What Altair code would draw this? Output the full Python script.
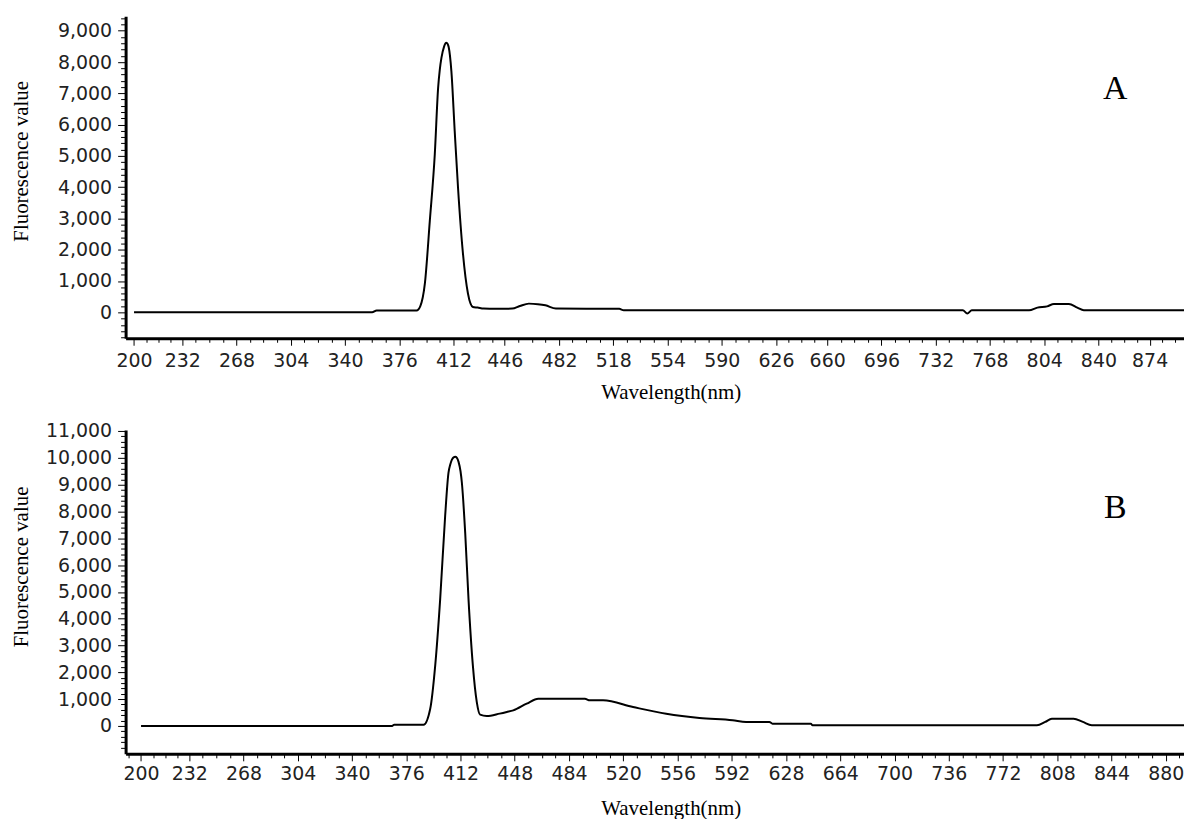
import altair as alt
import pandas as pd

# ---------------- data ----------------
wl_a = [200, 358, 361, 387.5, 390, 393, 396.3, 399.6, 401.8, 402.9, 404, 405.8, 406.6, 407.3, 408.1,
        408.8, 410.6, 412.8, 415, 418.3, 421.6, 424.9, 428, 432, 440, 451, 456, 462, 468, 473,
        480, 500, 522, 525, 750, 753, 756, 794, 799.5, 806, 810.5, 820.4, 826, 830.3, 897]
val_a = [0, 0, 60, 60, 200, 913, 2930, 5060, 7175, 7750, 8130, 8500, 8590, 8620, 8580,
         8480, 7710, 5800, 3990, 1870, 600, 170, 150, 118, 110, 118, 200, 277, 260, 223,
         118, 110, 110, 64, 64, -40, 64, 64, 150, 190, 265, 265, 150, 64, 64]

wl_b = [200, 366.6, 368, 387.5, 391.9, 395.2, 398.5, 401.8, 404, 405.2, 406.3, 407.4, 408.5, 409.6,
        410.7, 412, 412.9, 415.1, 417.3, 420.2, 422.8, 425, 429.4, 438, 442.7, 447, 455.9, 463.6,
        494.5, 497.8, 506.6, 526.5, 548.5, 570.6, 592.6, 601.5, 617, 619, 644.5, 645.6,
        794.5, 800, 804.4, 818.8, 825, 830.9, 895]
val_b = [0, 0, 45, 45, 640, 2250, 4730, 7830, 9440, 9750, 9930, 10020, 10040, 10000,
         9850, 9500, 9070, 7210, 4730, 2250, 890, 420, 370, 460, 520, 580, 830, 1015,
         1015, 955, 955, 706, 457, 297, 210, 149, 149, 86, 86, 26,
         26, 150, 270, 270, 150, 26, 26]

xticks_a = [200, 232, 268, 304, 340, 376, 412, 446, 482, 518, 554, 590, 626, 660,
            696, 732, 768, 804, 840, 874]
xticks_b = [200, 232, 268, 304, 340, 376, 412, 448, 484, 520, 556, 592, 628, 664,
            700, 736, 772, 808, 844, 880]
yticks_a = [0, 1000, 2000, 3000, 4000, 5000, 6000, 7000, 8000, 9000]
yticks_b = [0, 1000, 2000, 3000, 4000, 5000, 6000, 7000, 8000, 9000, 10000, 11000]

panel_labels = ["A", "B"]


def minor_x(major, lo, hi):
    vals = []
    for a, b in zip(major[:-1], major[1:]):
        s = (b - a) / 4
        vals += [a + s * k for k in (1, 2, 3)]
    s = (major[-1] - major[-2]) / 4
    v = major[-1] + s
    while v < hi:
        vals.append(v)
        v += s
    s = (major[1] - major[0]) / 4
    v = major[0] - s
    while v > lo:
        vals.append(v)
        v -= s
    return vals


def minor_y(lo, hi):
    return [v for v in range(-1000, 11401, 200) if v % 1000 != 0 and lo <= v <= hi]


def panel(wl, val, xticks, yticks, xdom, ydom, w, h, label, lab_pos, ytitle_xy, xtitle_xy,
          xlabpad):
    df = pd.DataFrame({"wl": wl, "val": val})
    xs = alt.Scale(domain=xdom, nice=False, zero=False)
    ys = alt.Scale(domain=ydom, nice=False, zero=False)

    line = alt.Chart(df).mark_line(color="black", strokeWidth=2, clip=True,
                                   interpolate="monotone").encode(
        x=alt.X("wl:Q", scale=xs,
                axis=alt.Axis(values=xticks, format="d", title="Wavelength(nm)",
                              tickSize=7, labelPadding=xlabpad, grid=False,
                              titleX=xtitle_xy[0], titleY=xtitle_xy[1],
                              titleBaseline="middle", titleAlign="center",
                              labelFlush=False, labelOverlap=False)),
        y=alt.Y("val:Q", scale=ys,
                axis=alt.Axis(values=yticks, format=",d", title="Fluorescence value",
                              tickSize=8, labelPadding=6, grid=False,
                              titleX=ytitle_xy[0], titleY=ytitle_xy[1],
                              titleBaseline="middle", titleAlign="center",
                              labelFlush=False, labelOverlap=False)),
    )

    minor = alt.Chart(df).mark_line(strokeOpacity=0, clip=True).encode(
        x=alt.X("wl:Q", scale=xs,
                axis=alt.Axis(values=minor_x(xticks, xdom[0], xdom[1]), orient="bottom",
                              labels=False, domain=False, title=None, tickSize=4,
                              grid=False)),
        y=alt.Y("val:Q", scale=ys,
                axis=alt.Axis(values=minor_y(ydom[0], ydom[1]), orient="left",
                              labels=False, domain=False, title=None, tickSize=5,
                              grid=False)),
    )

    txt = alt.Chart(pd.DataFrame({"t": [label]})).mark_text(
        font="Liberation Serif", fontSize=34, color="black",
        align="center", baseline="middle"
    ).encode(text="t:N", x=alt.value(lab_pos[0]), y=alt.value(lab_pos[1]))

    return alt.layer(line, minor, txt).resolve_axis(
        x="independent", y="independent"
    ).properties(width=w, height=h)


pa = panel(wl_a, val_a, xticks_a, yticks_a, [194.4, 896.8], [-830, 9460], 1062, 323,
           panel_labels[0], (993, 73), (-104, 145), (547, 54), 6)
pb = panel(wl_b, val_b, xticks_b, yticks_b, [189.75, 892.1], [-1040, 11040], 1062, 325,
           panel_labels[1], (993, 78), (-104, 137), (547, 55), 4)

chart = alt.vconcat(pa, pb, spacing=20).properties(
    padding={"left": 2, "top": 7, "right": 0, "bottom": 0}
).configure_view(stroke=None).configure_axis(
    labelFont="DejaVu Sans", labelFontSize=19, labelColor="#222222",
    titleFont="Liberation Serif", titleFontSize=21, titleFontWeight="normal",
    titleColor="black", domainColor="black", domainWidth=3, tickColor="black",
    tickWidth=1
)

chart.save("out.html", embed_options={"renderer": "svg", "actions": False})
